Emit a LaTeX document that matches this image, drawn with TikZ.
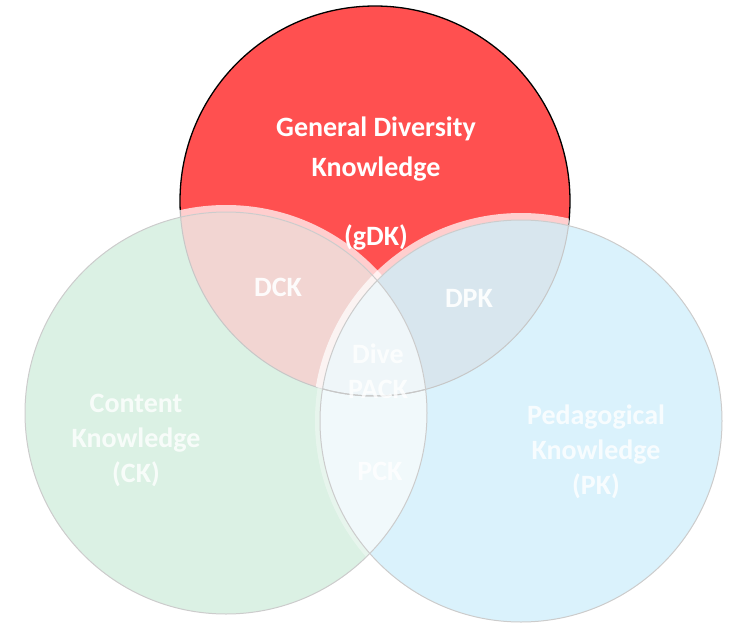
\documentclass[tikz,border=0pt]{standalone}
\usepackage{fontspec}
\setmainfont{Carlito}
\definecolor{gdkred}{RGB}{255,80,80}
\definecolor{ckgreen}{RGB}{219,241,228}
\definecolor{pkblue}{RGB}{218,242,252}
\definecolor{dckpink}{RGB}{242,213,210}
\definecolor{dpkgrey}{RGB}{216,230,238}
\definecolor{lenslow}{RGB}{241,249,251}
\definecolor{lensup}{RGB}{239,246,249}
\begin{document}
\begin{tikzpicture}[x=1pt,y=-1pt,
  lbl/.style={font=\fontsize{28}{35}\selectfont\bfseries, text=white, align=center, inner sep=0pt},
  faded/.style={lbl, text opacity=0.8},
  rimline/.style={draw=black!20, line width=1pt},
  glowband/.style={draw=white, line width=7pt, draw opacity=0.72}]
\useasboundingbox (0,0) rectangle (734,624);
\coordinate (cR) at (375,201);
\coordinate (cG) at (226,413);
\coordinate (cB) at (521,421);

% base discs
\fill[gdkred] (cR) circle[radius=195];
\fill[ckgreen] (cG) circle[radius=201];
\fill[pkblue] (cB) circle[radius=201];

% pairwise overlaps
\begin{scope}
  \clip (cR) circle[radius=195];
  \fill[dckpink] (cG) circle[radius=201];
  \fill[dpkgrey] (cB) circle[radius=201];
\end{scope}
\begin{scope}
  \clip (cG) circle[radius=201];
  \fill[lenslow] (cB) circle[radius=201];
  \clip (cR) circle[radius=195];
  \fill[lensup] (cB) circle[radius=201];
\end{scope}

% outline of the red disc: dark outside, faint where covered
\begin{scope}[even odd rule]
  \clip (-10,-10) rectangle (744,634) (cG) circle[radius=201];
  \clip (-10,-10) rectangle (744,634) (cB) circle[radius=201];
  \draw[black, line width=1.3pt] (cR) circle[radius=195];
\end{scope}
\begin{scope}
  \clip (cG) circle[radius=201];
  \draw[black!22, line width=1pt] (cR) circle[radius=195];
\end{scope}
\begin{scope}
  \clip (cB) circle[radius=201];
  \draw[black!22, line width=1pt] (cR) circle[radius=195];
\end{scope}

% soft white rims just outside the two light discs, strong over the red disc
\begin{scope}[even odd rule]
  \clip (-10,-10) rectangle (744,634) (cB) circle[radius=201];
  \draw[glowband] (cG) circle[radius=204.5];
\end{scope}
\begin{scope}
  \clip (cR) circle[radius=195];
  \draw[glowband] (cB) circle[radius=204.5];
\end{scope}
\begin{scope}[even odd rule]
  \clip (-10,-10) rectangle (744,634) (cR) circle[radius=195];
  \draw[glowband, line width=5pt, draw opacity=0.35] (cB) circle[radius=203.5];
\end{scope}
\draw[rimline] (cG) circle[radius=201];
\draw[rimline] (cB) circle[radius=201];

% labels
\node[lbl, font=\fontsize{28}{40}\selectfont\bfseries] (gdk) at (376,149) {General Diversity\\Knowledge};
\node[lbl] (gdkabbr) at (376,237) {(gDK)};
\node[lbl, text opacity=0.92] (dck) at (278,287) {DCK};
\node[lbl, text opacity=0.92] (dpk) at (469,298) {DPK};
\node[faded] (dive) at (378,371) {Dive\\PACK};
\node[faded] (pck) at (380,471) {PCK};
\node[faded] (ck) at (136,440) {Content\\Knowledge\\(CK)};
\node[faded] (pk) at (596,452) {Pedagogical\\Knowledge\\(PK)};
\end{tikzpicture}
\end{document}
